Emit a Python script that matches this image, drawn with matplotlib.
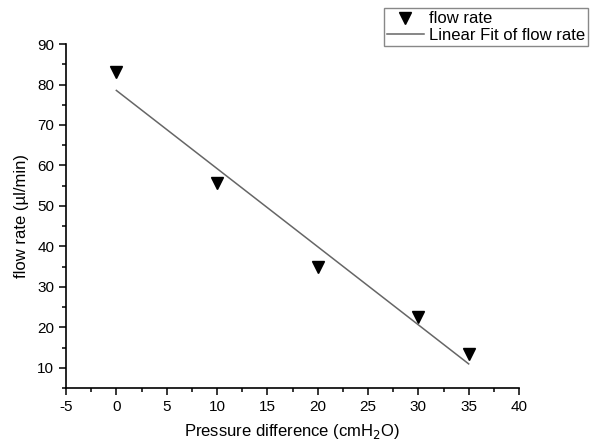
import numpy as np
import matplotlib.pyplot as plt
from matplotlib.ticker import MultipleLocator

plt.rcParams['font.family'] = ['Liberation Sans', 'DejaVu Sans']
plt.rcParams['axes.unicode_minus'] = False

# Data
pressure = np.array([0, 10, 20, 30, 35])
flow_rate = np.array([83.0, 55.7, 34.8, 22.5, 13.3])

# Linear fit of the measured points
slope, intercept = np.polyfit(pressure, flow_rate, 1)
fit_x = np.array([pressure.min(), pressure.max()])
fit_y = slope * fit_x + intercept

fig = plt.figure(figsize=(6, 4.45), dpi=100)
ax = fig.add_axes([0.11, 0.128, 0.755, 0.773])

ax.plot(pressure, flow_rate, linestyle='none', marker='v', color='black',
        markersize=8, label='flow rate')
ax.plot(fit_x, fit_y, color='#666666', linewidth=1.1, label='Linear Fit of flow rate')

ax.set_xlim(-5, 40)
ax.set_ylim(5, 90)
ax.xaxis.set_major_locator(MultipleLocator(5))
ax.xaxis.set_minor_locator(MultipleLocator(2.5))
ax.yaxis.set_major_locator(MultipleLocator(10))
ax.yaxis.set_minor_locator(MultipleLocator(5))
ax.set_yticks(np.arange(10, 91, 10))

for side in ['top', 'right']:
    ax.spines[side].set_visible(False)
for side in ['left', 'bottom']:
    ax.spines[side].set_linewidth(1.2)
ax.tick_params(which='major', direction='out', length=5, width=1.1, labelsize=11)
ax.tick_params(which='minor', direction='out', length=3, width=1.1)

ax.set_xlabel('Pressure difference (cmH$_2$O)', fontsize=12, labelpad=6)
ax.set_ylabel('flow rate (\u00b5l/min)', fontsize=12, labelpad=6)

leg = fig.legend(loc='upper right', bbox_to_anchor=(0.98, 0.982), fontsize=12,
                 fancybox=False, edgecolor='#888888', framealpha=1,
                 borderpad=0.2, handlelength=2.2, handletextpad=0.3,
                 labelspacing=0.1, borderaxespad=0)
leg.get_frame().set_linewidth(1.0)

fig.savefig('out.png', dpi=100)
